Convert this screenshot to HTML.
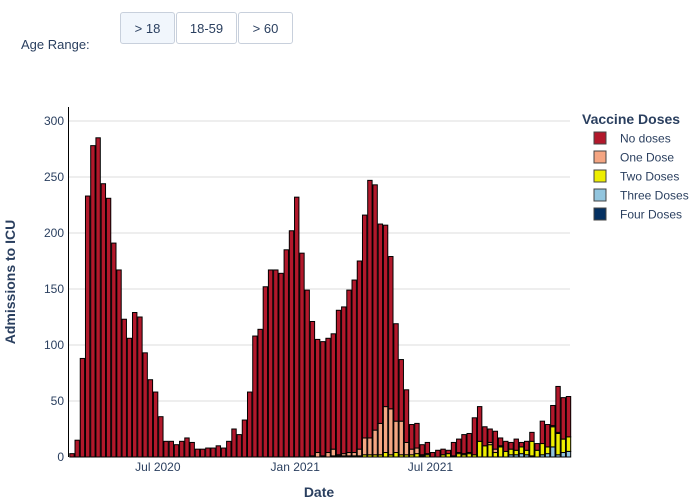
<!DOCTYPE html>
<html><head><meta charset="utf-8"><style>
body{margin:0;background:#fff;font-family:"Liberation Sans",sans-serif;}
#wrap{position:relative;width:700px;height:500px;overflow:hidden;}
.btn{position:absolute;top:12px;height:32px;border:1px solid #c8d0dc;border-radius:3px;background:#fff;font-size:13px;color:#2a3f5f;line-height:32px;text-align:center;box-sizing:border-box;}
</style></head><body><div id="wrap">
<div style="position:absolute;left:21px;top:37px;font-size:13px;color:#2a3f5f;">Age Range:</div>
<div class="btn" style="left:120px;width:55px;background:#f1f6fc;">&gt; 18</div>
<div class="btn" style="left:176px;width:61px;">18-59</div>
<div class="btn" style="left:238px;width:55px;">&gt; 60</div>
<svg id="chart" width="700" height="500" style="position:absolute;left:0;top:0"></svg>
</div>
<script>
const startDate = "2020-03-08";
const totals = [3,15,88,233,278,285,244,231,191,167,123,106,129,125,93,69,58,36,14,14,11,14,17,13,7,7,8,8,10,8,14,25,20,33,58,108,114,152,167,167,164,185,202,232,182,149,121,105,103,106,110,131,134,149,158,175,216,247,243,208,207,179,119,87,60,29,30,11,13,4,6,7,6,13,16,20,21,35,45,27,25,23,17,14,13,16,13,14,22,12,32,29,46,63,53,54];
const oneDose = [0,0,0,0,0,0,0,0,0,0,0,0,0,0,0,0,0,0,0,0,0,0,0,0,0,0,0,0,0,0,0,0,0,0,0,0,0,0,0,0,0,0,0,0,0,0,1,4,1,4,6,1,2,3,3,6,15,15,22,28,41,41,28,30,11,5,5,1,1,0,0,0,0,0,1,1,1,0,0,0,2,3,1,0,0,0,0,0,0,0,0,0,1,1,0,0];
const twoDoses = [0,0,0,0,0,0,0,0,0,0,0,0,0,0,0,0,0,0,0,0,0,0,0,0,0,0,0,0,0,0,0,0,0,0,0,0,0,0,0,0,0,0,0,0,0,0,0,0,0,0,1,1,1,1,1,1,2,2,2,2,4,2,4,2,2,2,3,1,2,0,0,2,3,1,3,2,3,2,14,10,11,4,9,5,5,4,6,4,13,6,10,6,18,19,12,13];
const threeDoses = [0,0,0,0,0,0,0,0,0,0,0,0,0,0,0,0,0,0,0,0,0,0,0,0,0,0,0,0,0,0,0,0,0,0,0,0,0,0,0,0,0,0,0,0,0,0,0,0,0,0,0,0,0,0,0,0,0,0,0,0,0,0,0,0,0,0,0,0,0,0,0,0,0,0,0,0,0,0,0,0,0,0,0,0,2,2,3,2,1,0,2,3,9,2,4,5];
const fourDoses = new Array(96).fill(0);
const yTicks = [0,50,100,150,200,250,300];
const xTickDates = ["2020-07-01","2021-01-01","2021-07-01"];
const xTickLabels = ["Jul 2020","Jan 2021","Jul 2021"];
const seriesNames = ["No doses","One Dose","Two Doses","Three Doses","Four Doses"];
const seriesColors = ["#b2182b","#f4a582","#eeee00","#92c5de","#053061"];

const NS="http://www.w3.org/2000/svg";
const svg=document.getElementById('chart');
const L=69,R=570,T=107,B=457;
const d0=new Date("2020-03-04").getTime(), d1=new Date("2022-01-04").getTime();
const xOf=t=>L+(t-d0)/(d1-d0)*(R-L);
const yOf=v=>B-v*(B-121)/300;
function mk(tag,attrs,txt){const e=document.createElementNS(NS,tag);for(const k in attrs)e.setAttribute(k,attrs[k]);if(txt!==undefined)e.textContent=txt;svg.appendChild(e);return e;}
yTicks.forEach(v=>{
  if(v>0){const g=mk('line',{x1:L,x2:R,y1:yOf(v),y2:yOf(v),stroke:'#dcdcdc','stroke-width':1});
  
  }
  const t=mk('text',{x:L-5,y:yOf(v)+4,'text-anchor':'end','font-size':12,fill:'#2a3f5f'},String(v));
  
  
});
xTickDates.forEach((d,i)=>{
  const t=mk('text',{x:xOf(new Date(d).getTime()),y:471,'text-anchor':'middle','font-size':12,fill:'#2a3f5f'},xTickLabels[i]);
  
  
});
const st=new Date(startDate).getTime();
const week=7*86400000;
const bw=(xOf(st+week)-xOf(st))*0.84;
totals.forEach((tot,i)=>{
  const cx=xOf(st+i*week);
  const parts=[fourDoses[i],threeDoses[i],twoDoses[i],oneDose[i]];
  const noD=Math.max(0,tot-parts.reduce((a,b)=>a+b,0));
  const stack=[[4,parts[0]],[3,parts[1]],[2,parts[2]],[1,parts[3]],[0,noD]];
  let base=0;
  stack.forEach(([si,v])=>{
    if(v<=0)return;
    const r=mk('rect',{x:cx-bw/2,y:yOf(base+v),width:bw,height:yOf(base)-yOf(base+v),fill:seriesColors[si],stroke:'#000','stroke-width':1});
    
    
    base+=v;
  });
});
const ax=mk('line',{x1:L-0.5,x2:L-0.5,y1:T,y2:B,stroke:'#000','stroke-width':1});


const yt=mk('text',{x:15,y:282,'text-anchor':'middle','font-size':14,'font-weight':'bold',fill:'#2a3f5f',transform:'rotate(-90 15 282)'},'Admissions to ICU');


const xt=mk('text',{x:319,y:497,'text-anchor':'middle','font-size':14,'font-weight':'bold',fill:'#2a3f5f'},'Date');


const lt=mk('text',{x:582,y:124,'font-size':14,'font-weight':'bold',fill:'#2a3f5f'},'Vaccine Doses');


seriesNames.forEach((n,i)=>{
  const y=138+i*19;
  const s=mk('rect',{x:594,y:y-6,width:12,height:12,fill:seriesColors[i],stroke:'#444','stroke-width':1});
  
  
  const t=mk('text',{x:620,y:y+4.5,'font-size':12,fill:'#2a3f5f'},n);
  
  
});
</script></body></html>
